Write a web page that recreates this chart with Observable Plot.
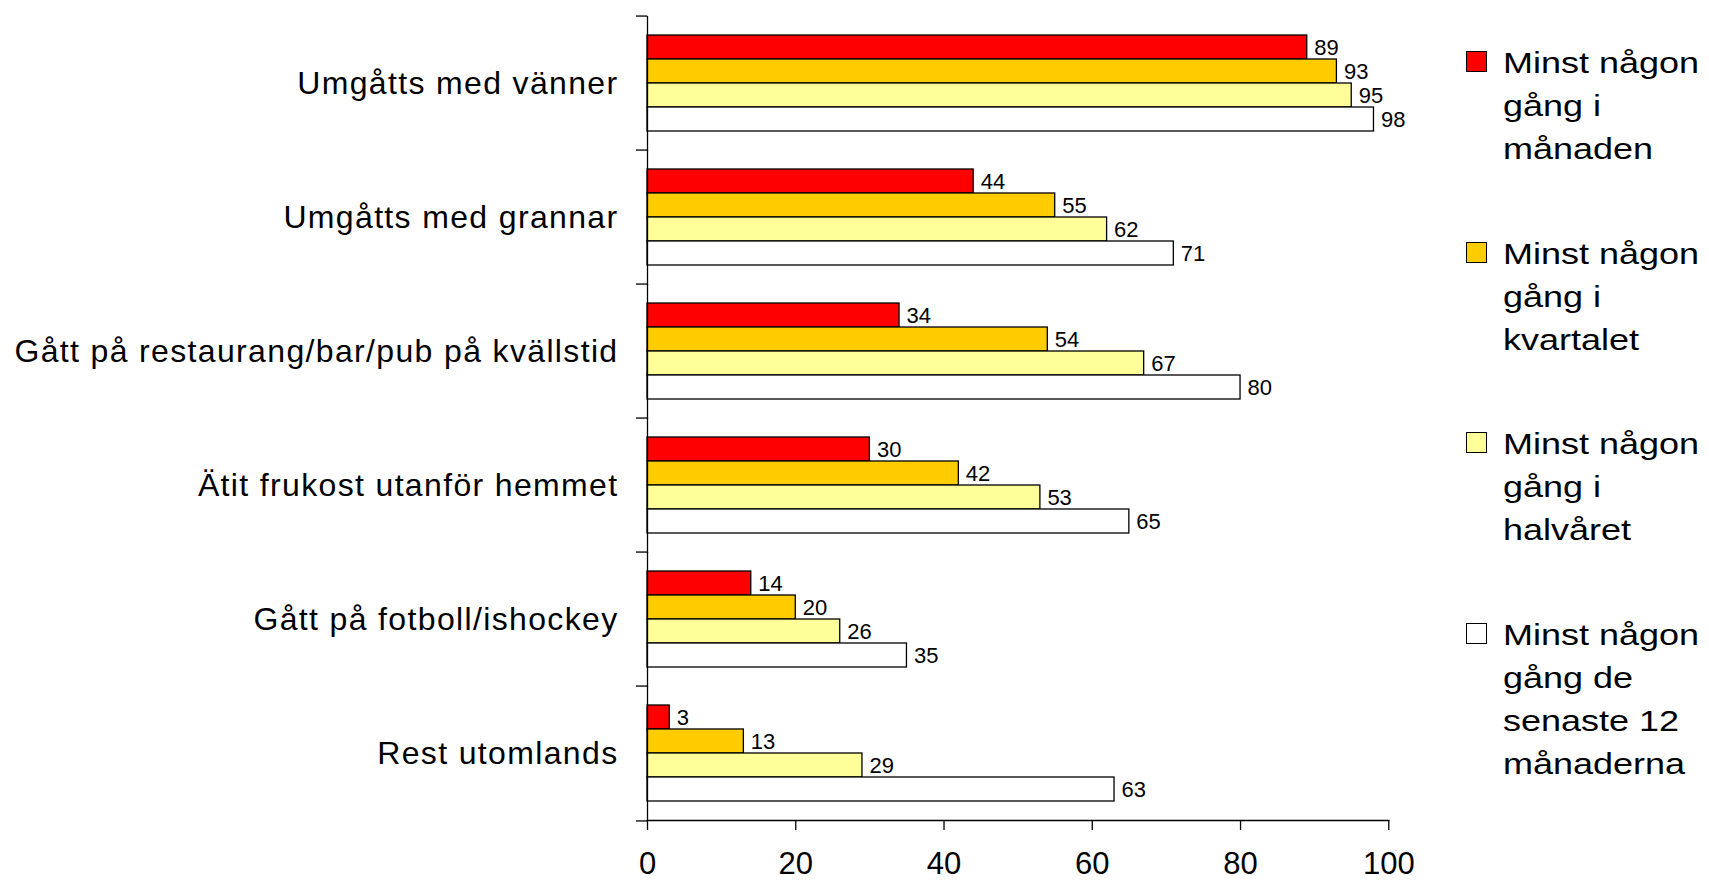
<!DOCTYPE html>
<html><head><meta charset="utf-8">
<script src="https://cdn.jsdelivr.net/npm/d3@7"></script>
<script src="https://cdn.jsdelivr.net/npm/@observablehq/plot@0.6"></script>
<style>
html,body{margin:0;padding:0;background:#fff;}
#wrap{position:relative;width:1709px;height:882px;font-family:"Liberation Sans",Arial,sans-serif;overflow:hidden;}
#chart svg{display:block;}
#chart svg g[aria-label="fy-axis tick label"] text{letter-spacing:1.35px;}
.item{position:absolute;left:1466px;}
.sw{position:absolute;left:0;top:10px;width:19px;height:19px;border:1.5px solid #000;}
.lbl{position:absolute;left:36.5px;top:0;font-size:30px;line-height:43px;transform:scaleX(1.2);transform-origin:left top;white-space:nowrap;color:#000;}
</style></head><body>
<div id="wrap"><div id="chart"></div><div id="legend"></div></div>
<script>
// ---- data ----
const categories = [
  "Umgåtts med vänner",
  "Umgåtts med grannar",
  "Gått på restaurang/bar/pub på kvällstid",
  "Ätit frukost utanför hemmet",
  "Gått på fotboll/ishockey",
  "Rest utomlands"
];
const series = [
  "Minst någon gång i månaden",
  "Minst någon gång i kvartalet",
  "Minst någon gång i halvåret",
  "Minst någon gång de senaste 12 månaderna"
];
const legendLines = [
  ["Minst någon", "gång i", "månaden"],
  ["Minst någon", "gång i", "kvartalet"],
  ["Minst någon", "gång i", "halvåret"],
  ["Minst någon", "gång de", "senaste 12", "månaderna"]
];
const colors = ["#FF0000", "#FFCC00", "#FFFF99", "#FFFFFF"];
const valuesMonth    = [89, 44, 34, 30, 14, 3];
const valuesQuarter  = [93, 55, 54, 42, 20, 13];
const valuesHalfYear = [95, 62, 67, 53, 26, 29];
const values12Months = [98, 71, 80, 65, 35, 63];
const xTicks = [0, 20, 40, 60, 80, 100];

// ---- table ----
const seriesValues = [valuesMonth, valuesQuarter, valuesHalfYear, values12Months];
const rows = [];
categories.forEach((c, i) => series.forEach((s, j) => rows.push({category: c, series: s, value: seriesValues[j][i]})));

const W = 1709, H = 882;
const mTop = 13, mBottom = 59.7, mLeft = 647, mRight = 320.7;
const band = (H - mTop - mBottom) / categories.length;
const font = '"Liberation Sans", Arial, sans-serif';

const chart = Plot.plot({
  width: W, height: H,
  marginLeft: mLeft, marginRight: mRight, marginTop: mTop, marginBottom: mBottom,
  facet: {marginTop: 0, marginBottom: 0, marginLeft: 0, marginRight: 0},
  style: {fontFamily: font, background: "transparent", color: "#000"},
  x: {domain: [0, 100], ticks: xTicks},
  y: {domain: series, paddingInner: 0, paddingOuter: 0.753, axis: null},
  fy: {domain: categories, paddingInner: 0, paddingOuter: 0},
  color: {domain: series, range: colors},
  marks: [
    Plot.barX(rows, {x: "value", y: "series", fy: "category", fill: "series", stroke: "#000", strokeWidth: 1.3}),
    Plot.text(rows, {x: "value", y: "series", fy: "category", text: d => String(d.value), textAnchor: "start", dx: 7, fontSize: 22, fill: "#000"}),
    Plot.frame({anchor: "left", stroke: "#000", strokeWidth: 1.3}),
    Plot.frame({anchor: "bottom", facetAnchor: "bottom", stroke: "#000", strokeWidth: 1.3}),
    Plot.axisFy({anchor: "left", tickSize: 0, tickPadding: 29, fontSize: 32, label: null}),
    Plot.axisFy({anchor: "left", tickSize: 11, tickFormat: () => "", dy: -band / 2, label: null, strokeWidth: 1.3}),
    Plot.axisFy({anchor: "left", ticks: [categories[categories.length - 1]], tickSize: 11, tickFormat: () => "", dy: band / 2, label: null, strokeWidth: 1.3}),
    Plot.axisX({anchor: "bottom", ticks: xTicks, tickSize: 10, tickPadding: 21, fontSize: 31, label: null, strokeWidth: 1.3})
  ]
});
document.getElementById("chart").appendChild(chart);

// ---- legend ----
const legend = document.getElementById("legend");
const itemStep = 190.8, itemTop = 40.8;
legendLines.forEach((lines, i) => {
  const it = document.createElement("div");
  it.className = "item";
  it.style.top = (itemTop + i * itemStep) + "px";
  const sw = document.createElement("div");
  sw.className = "sw";
  sw.style.background = colors[i];
  const lb = document.createElement("div");
  lb.className = "lbl";
  lb.innerHTML = lines.join("<br>");
  it.appendChild(sw); it.appendChild(lb);
  legend.appendChild(it);
});
</script>
</body></html>
